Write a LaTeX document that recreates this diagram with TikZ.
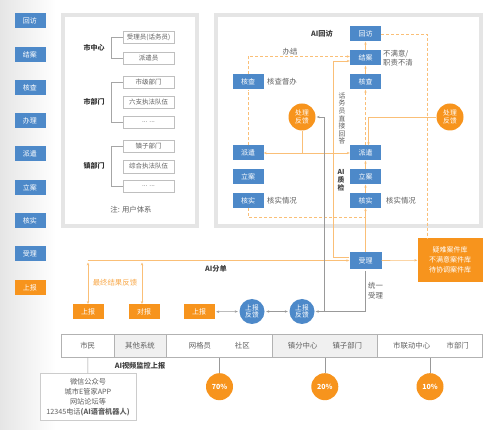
\documentclass[tikz,border=0pt]{standalone}
\usepackage{fontspec}
\setmainfont{Noto Sans CJK SC}
\usetikzlibrary{arrows.meta,calc}
\definecolor{myblue}{RGB}{77,137,201}
\definecolor{myorange}{RGB}{247,148,29}
\definecolor{tgray}{RGB}{95,95,95}
\definecolor{lgray}{RGB}{229,229,229}
\tikzset{
 basetxt/.style={font=\fontsize{7}{8}\selectfont, inner sep=0pt},
 bbox/.style={basetxt, fill=myblue, text=white, minimum width=31pt, minimum height=15pt},
 obox/.style={bbox, fill=myorange},
 ubox/.style={basetxt, draw=black!25, fill=white, text=tgray, minimum width=51pt, minimum height=12.5pt, font=\fontsize{6.5}{7.5}\selectfont},
 grp/.style={basetxt, font=\bfseries\fontsize{7}{8}\selectfont, text=black!80},
 lbl/.style={basetxt, text=tgray, font=\fontsize{7.4}{8.5}\selectfont},
 boldlbl/.style={basetxt, font=\bfseries\fontsize{7.2}{8}\selectfont, text=black!75},
 ocirc/.style={circle, fill=myorange, text=white, minimum size=27pt, inner sep=0pt, align=center, font=\fontsize{6.8}{7.8}\selectfont},
 bcirc/.style={ocirc, fill=myblue, minimum size=25pt},
 pcirc/.style={ocirc, font=\bfseries\fontsize{7}{8}\selectfont},
 panel/.style={draw=lgray, line width=4pt},
 oline/.style={draw=myorange!60, line width=0.6pt},
 odash/.style={oline, dash pattern=on 3pt off 2pt},
 gline/.style={draw=black!40, line width=0.5pt},
 brk/.style={draw=black!35, line width=0.5pt},
 arr/.style={-{Stealth[length=3pt,width=2.4pt]}},
 darr/.style={{Stealth[length=3pt,width=2.4pt]}-{Stealth[length=3pt,width=2.4pt]}},
 cell/.style={draw=black!30, line width=0.6pt, minimum height=23pt, inner sep=0pt},
}
\begin{document}
\begin{tikzpicture}[x=1pt,y=-1pt]
\useasboundingbox (0,0) rectangle (496,430);
\fill[white] (0,0) rectangle (496,430);
\shade[left color=black!10, right color=white] (0,0) rectangle (56,430);

% left strip
\node[bbox] (s1) at (30,20.5) {回访};
\node[bbox] (s2) at (30,54.5) {结案};
\node[bbox] (s3) at (30,87.5) {核查};
\node[bbox] (s4) at (30,120.5) {办理};
\node[bbox] (s5) at (30,154) {派遣};
\node[bbox] (s6) at (30,187.5) {立案};
\node[bbox] (s7) at (30,220.5) {核实};
\node[bbox] (s8) at (30,254) {受理};
\node[obox] (s9) at (30,287.5) {上报};

% panel 1
\draw[panel] (63,15) rectangle (197,226);
\node[ubox] (u1) at (148.5,37) {受理员(话务员)};
\node[ubox] (u2) at (148.5,58) {派遣员};
\node[ubox] (u3) at (148.5,82) {市级部门};
\node[ubox] (u4) at (148.5,102) {六支执法队伍};
\node[ubox] (u5) at (148.5,122) {... ...};
\node[ubox] (u6) at (148.5,146) {镇子部门};
\node[ubox] (u7) at (148.5,166.5) {综合执法队伍};
\node[ubox] (u8) at (148.5,186) {... ...};
\node[grp] (g1) at (94,48) {市中心};
\node[grp] (g2) at (94,102) {市部门};
\node[grp] (g3) at (94,166) {镇部门};
\draw[brk] (u1.west) -- ++(-12,0) |- (u2.west);
\draw[brk] (u3.west) -- ++(-12,0) |- (u5.west);
\draw[brk] (u6.west) -- ++(-12,0) |- (u8.west);
\node[lbl] (note) at (131,210) {注: 用户体系};

% panel 2
\draw[panel] (216,15) rectangle (481,226);
\node[bbox] (r1) at (365.5,34) {回访};
\node[bbox] (r2) at (365.5,58) {结案};
\node[bbox] (r3) at (365.5,82) {核查};
\node[bbox] (r4) at (365.5,153) {派遣};
\node[bbox] (r5) at (365.5,177) {立案};
\node[bbox] (r6) at (365.5,200.5) {核实};
\node[bbox] (l1) at (248,82) {核查};
\node[bbox] (l2) at (248,153) {派遣};
\node[bbox] (l3) at (248,177) {立案};
\node[bbox] (l4) at (248,200.5) {核实};
\node[boldlbl] (aihf) at (322,33.5) {AI回访};
\node[lbl] (bj) at (290,52) {办结};
\node[lbl, anchor=west] (hcdb) at (267,82) {核查督办};
\node[lbl, anchor=west] (hsq1) at (267,200.5) {核实情况};
\node[lbl, anchor=west] (hsq2) at (386,200.5) {核实情况};
\node[lbl, anchor=west, align=left, font=\fontsize{7.4}{9}\selectfont] (bmy) at (383,58.5) {不满意/\\职责不清};
\node[lbl, align=center, font=\fontsize{6.8}{7.6}\selectfont] (hwy) at (342,118.5) {话\\务\\员\\直\\接\\回\\答};
\node[boldlbl, align=center, font=\bfseries\fontsize{6.8}{8}\selectfont] (aizj) at (341,180) {AI\\质\\检};
\node[ocirc] (lc) at (302,117) {处理\\反馈};
\node[ocirc] (rc) at (450,117) {处理\\反馈};

% bottom flow
\node[bbox, minimum width=32pt, minimum height=16.5pt] (sl) at (365.5,260.5) {受理};
\node[obox, align=center, minimum width=65pt, minimum height=44pt, font=\fontsize{7}{10}\selectfont] (lib) at (450,260.3) {疑难案件库\\不满意案件库\\待协调案件库};
\node[obox] (ob1) at (88,311.8) {上报};
\node[obox] (ob2) at (144,311.8) {对报};
\node[obox] (ob3) at (199,311.8) {上报};
\node[bcirc] (bc1) at (252,311.5) {上报\\反馈};
\node[bcirc] (bc2) at (302,311.5) {上报\\反馈};
\node[boldlbl] (aifd) at (216,268.5) {AI分单};
\node[lbl, text=myorange!80] (zz) at (115,283) {最终结果反馈};
\node[lbl, anchor=west, align=left, font=\fontsize{7.4}{10}\selectfont] (tysl) at (368,291) {统一\\受理};

% connectors panel 2
\draw[oline, arr] (r2.north) -- (r1.south);
\draw[oline, arr] (r3.north) -- (r2.south);
\draw[odash, arr] (r4.north) -- (r3.south);
\draw[oline, arr] (r5.north) -- (r4.south);
\draw[oline, arr] (r6.north) -- (r5.south);
\draw[oline, arr] (sl.north) -- (r6.south);
\draw[odash] (l2.north) -- (l1.south);
\draw[odash, arr] (l1.north) |- ([yshift=1.5pt]r2.west);
\coordinate (db) at (248,217);
\draw[odash] (l4.south) -- (db) -- (db -| sl.north);
\coordinate (dv) at (427.5,34);
\draw[odash] (r1.east) -- (dv) -- (dv |- lib.north);
\coordinate (rk) at (368.5,117);
\draw[oline, arr] (rc.west) -- (rk) -- (rk |- r4.north);
\draw[oline, darr] (l2.east) -- (r4.west);
\draw[oline] (lc.south) -- (lc |- l2);
\draw[oline, arr] ([yshift=3pt]sl.west) -- ++(-16,0) |- ([yshift=-3pt]r2.west);
\draw[oline, arr] (sl.east) -- (lib.west);

% AI fen dan
\coordinate (fd) at (87.5,260.5);
\draw[oline, arr] (fd) -- (sl.west);
\coordinate (fa1) at (88,262.5);
\coordinate (fa2) at (142,262.5);
\draw[oline, darr] (fa1) -- (ob1.north);
\draw[oline, darr] (fa2) -- (fa2 |- ob2.north);

% gray links
\draw[gline, darr, shorten <=1.5pt, shorten >=1.5pt] (ob3.east) -- (bc1.west);
\draw[gline, darr, shorten <=1.5pt, shorten >=1.5pt] (bc1.east) -- (bc2.west);
\draw[gline, arr, shorten <=2pt, shorten >=1pt] (sl.south) |- (bc2.east);
\coordinate (gj) at (324.5,311.5);
\draw[gline, arr, shorten >=1pt] (gj) |- (lc.east);

% bottom table
\node[cell] (c1) at (87.85,345.8) [minimum width=52.3pt] {};
\node[cell, fill=black!6] (c2) at (140.35,345.8) [minimum width=52.7pt] {};
\node[cell] (c3) at (219.5,345.8) [minimum width=105.6pt] {};
\node[cell, fill=black!6] (c4) at (324.8,345.8) [minimum width=105pt] {};
\node[cell] (c5) at (430,345.8) [minimum width=105.4pt] {};
\node[lbl] (t1) at (87.7,345.8) {市民};
\node[lbl] (t2) at (140,345.8) {其他系统};
\node[lbl] (t3) at (200,345.8) {网格员};
\node[lbl] (t4) at (242.3,345.8) {社区};
\node[lbl] (t5) at (302.7,345.8) {镇分中心};
\node[lbl] (t6) at (347.3,345.8) {镇子部门};
\node[lbl] (t7) at (411.7,345.8) {市联动中心};
\node[lbl] (t8) at (457.7,345.8) {市部门};
\node[boldlbl] (aisp) at (140,365.7) {AI视频监控上报};
\node[lbl, draw=black!20, fill=white, align=center, minimum width=96pt, minimum height=47.4pt, font=\fontsize{7.2}{9.8}\selectfont] (src) at (88,397) {微信公众号\\城市E管家APP\\网站论坛等\\12345电话\textbf{(AI语音机器人)}};
\node[pcirc] (p70) at (219.5,386.7) {70\%};
\node[pcirc] (p20) at (324.8,386.7) {20\%};
\node[pcirc] (p10) at (430,386.7) {10\%};
\draw[gline] (c1.south) -- (src.north);
\draw[gline] (c3.south) -- (p70.north);
\draw[gline] (c4.south) -- (p20.north);
\draw[gline] (c5.south) -- (p10.north);
\end{tikzpicture}
\end{document}
